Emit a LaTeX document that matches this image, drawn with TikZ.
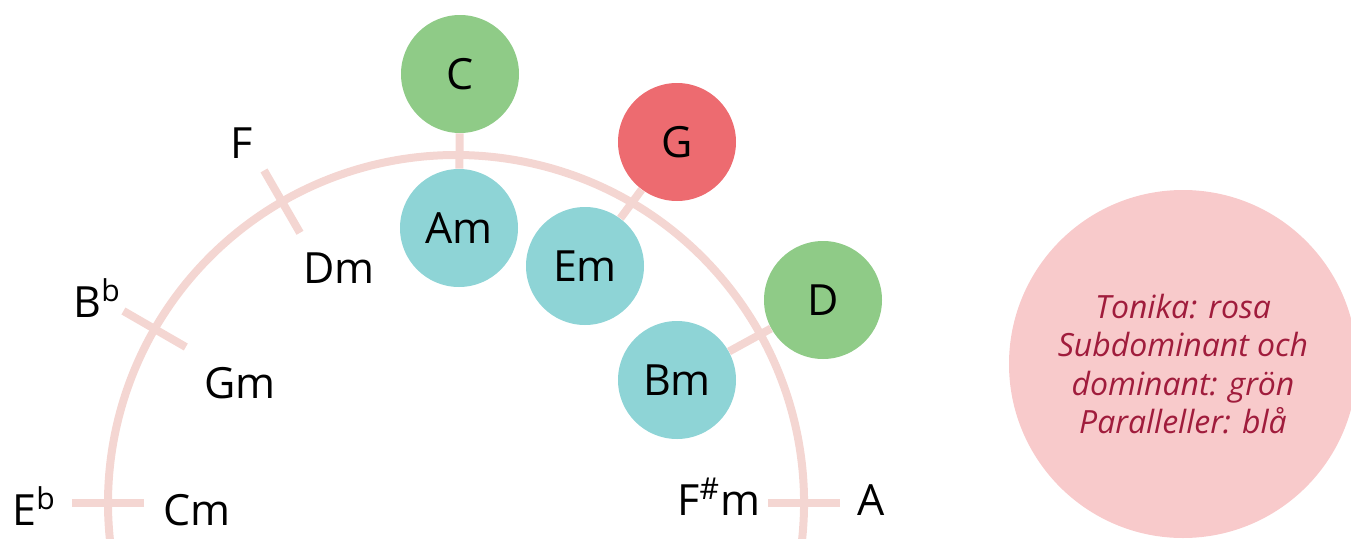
\documentclass[tikz,border=0pt]{standalone}
\usepackage{fontspec}
\setmainfont{Open Sans}
\definecolor{ring}{RGB}{244,214,210}
\definecolor{dur}{RGB}{143,203,135}
\definecolor{tonika}{RGB}{237,107,112}
\definecolor{moll}{RGB}{142,212,214}
\definecolor{legfill}{RGB}{248,202,203}
\definecolor{legtext}{RGB}{160,28,60}

\begin{document}
\begin{tikzpicture}[x=0.5pt,y=0.5pt,
  ringline/.style={ring,line width=4pt},
  chord/.style={circle,minimum size=59pt,inner sep=0pt,font=\fontsize{21.5}{26}\selectfont},
  key/.style={anchor=base west,inner sep=0pt,font=\fontsize{21.5}{26}\selectfont}]
\clip (0,0) rectangle (1351,538);
% ring and ticks
\draw [ringline,shift={(456,35)}] (-10:348) arc[start angle=-10,end angle=190,radius=348];
\foreach \a in {0,120,150,180}
  \draw [ringline,shift={(456,35)}] (\a:312) -- (\a:384);
% chords on the ring
\node[chord,fill=dur] (C) at (460,464) {C};
\node[chord,fill=moll] (Am) at (459,310) {Am};
\node[chord,fill=tonika] (G) at (677,396) {G};
\node[chord,fill=moll] (Em) at (585,272) {Em};
\node[chord,fill=dur] (D) at (823,238) {D};
\node[chord,fill=moll] (Bm) at (677,158) {Bm};
\draw [ringline] (C)--(Am);
\draw [ringline] (G)--(Em);
\draw [ringline] (D)--(Bm);
% other keys
\node[key] (F) at (230,380) {F};
\node[key] (Dm) at (303,255) {Dm};
\node[key] (Bb) at (73,221) {B\textsuperscript{b}};
\node[key] (Gm) at (204,140) {Gm};
\node[key] (Eb) at (12,13) {E\textsuperscript{b}};
\node[key] (Cm) at (163,13) {Cm};
\node[key] (Fism) at (677,23) {F\textsuperscript{\#}m};
\node[key] (A) at (857,23) {A};
% legend
\node[circle,fill=legfill,minimum size=174pt,inner sep=0pt,text=legtext,align=center,
  font=\fontsize{16}{19.2}\itshape] (leg) at (1183,174)
  {Tonika: rosa\\Subdominant och\\dominant: grön\\Paralleller: blå};
\end{tikzpicture}
\end{document}
